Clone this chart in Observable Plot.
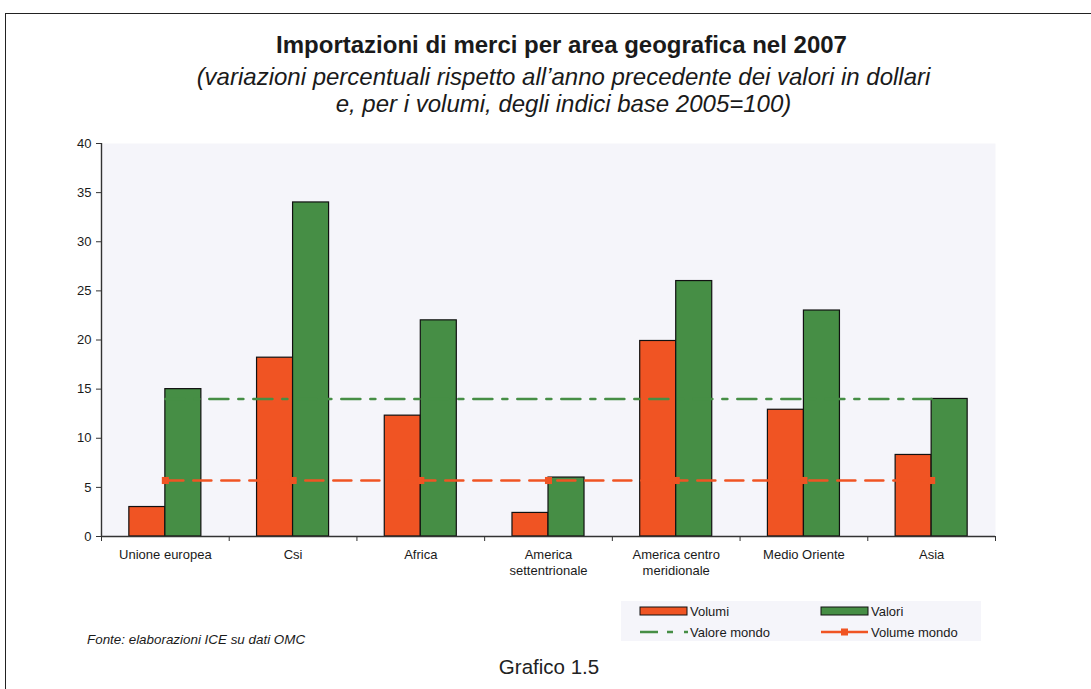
<!DOCTYPE html>
<html>
<head>
<meta charset="utf-8">
<script src="https://cdn.jsdelivr.net/npm/d3@7"></script>
<script src="https://cdn.jsdelivr.net/npm/@observablehq/plot@0.6"></script>
<style>
  html, body { margin: 0; padding: 0; background: #fff; }
  body { width: 1091px; height: 689px; position: relative; overflow: hidden; font-family: "Liberation Sans", Arial, sans-serif; color: #1a1a1a; }
  #frame { position: absolute; left: 5px; top: 13px; width: 1200px; height: 800px; border-left: 1.3px solid #222; border-top: 1.3px solid #222; }
  .title { position: absolute; left: 0; width: 1123px; text-align: center; font-size: 24px; font-weight: bold; top: 31px; line-height: 28px; }
  .subtitle { position: absolute; left: 0; width: 1127px; text-align: center; font-size: 24px; font-style: italic; top: 63px; line-height: 27px; }
  #chart { position: absolute; left: 0; top: 120px; }
  #legend { position: absolute; left: 0; top: 0; }
  .source { position: absolute; left: 87px; top: 632px; font-size: 13.4px; font-style: italic; }
  .grafico { position: absolute; left: 0; width: 1098px; text-align: center; top: 655px; font-size: 20.5px; color: #222; }
</style>
</head>
<body>
<div id="frame"></div>
<div class="title">Importazioni di merci per area geografica nel 2007</div>
<div class="subtitle">(variazioni percentuali rispetto all’anno precedente dei valori in dollari<br>e, per i volumi, degli indici base 2005=100)</div>
<div id="chart"></div>
<svg id="legend" width="1091" height="689" style="pointer-events:none"></svg>
<div class="source">Fonte: elaborazioni ICE su dati OMC</div>
<div class="grafico">Grafico 1.5</div>
<script>
// ---- Data ----
const categories = ["Unione europea", "Csi", "Africa", "America settentrionale", "America centro meridionale", "Medio Oriente", "Asia"];
const categoryLabels = ["Unione europea", "Csi", "Africa", "America\nsettentrionale", "America centro\nmeridionale", "Medio Oriente", "Asia"];
const volumi = [3.0, 18.2, 12.3, 2.4, 19.9, 12.9, 8.3];
const valori = [15, 34, 22, 6, 26, 23, 14];
const valoreMondo = 14.0;
const volumeMondo = 5.7;
const seriesNames = ["Volumi", "Valori", "Valore mondo", "Volume mondo"];
const yTicks = [0, 5, 10, 15, 20, 25, 30, 35, 40];

// ---- Style ----
const ORANGE = "#f05423";
const GREEN = "#468e45";
const BG = "#f5f5fa";
const barHalf = 0.282; // width of one bar as fraction of a category slot

const table = [];
categories.forEach((c, i) => {
  table.push({cat: c, i, serie: seriesNames[0], value: volumi[i], x1: i + 0.5 - barHalf, x2: i + 0.5});
  table.push({cat: c, i, serie: seriesNames[1], value: valori[i], x1: i + 0.5, x2: i + 0.5 + barHalf});
});
const centers = categories.map((c, i) => ({cat: c, x: i + 0.5}));

const chart = Plot.plot({
  width: 1091,
  height: 470,
  marginLeft: 101,
  marginRight: 96,
  marginTop: 23,
  marginBottom: 54,
  style: {fontFamily: "Liberation Sans, Arial, sans-serif", fontSize: "13px", color: "#1a1a1a", background: "transparent"},
  x: {type: "linear", domain: [0, categories.length]},
  y: {domain: [0, 40]},
  color: {domain: seriesNames.slice(0, 2), range: [ORANGE, GREEN]},
  marks: [
    Plot.frame({fill: BG, stroke: null}),
    Plot.rectY(table, {x1: "x1", x2: "x2", y: "value", fill: "serie", stroke: "#111", strokeWidth: 1.2}),
    Plot.lineY(centers, {x: "x", y: () => valoreMondo, stroke: GREEN, strokeWidth: 2.6, strokeDasharray: "19,10,5,10"}),
    Plot.lineY(centers, {x: "x", y: () => volumeMondo, stroke: ORANGE, strokeWidth: 2.6, strokeDasharray: "18,10"}),
    Plot.dot(centers, {x: "x", y: () => volumeMondo, symbol: "square", r: 4, fill: ORANGE, stroke: null}),
    Plot.ruleX([0], {y1: 0, y2: 40, stroke: "#333", strokeWidth: 1.4}),
    Plot.ruleY([0], {x1: 0, x2: categories.length, stroke: "#333", strokeWidth: 1.4}),
    Plot.axisY({ticks: yTicks, tickSize: 5, tickPadding: 5, label: null, fontSize: 13, stroke: "#333"}),
    Plot.axisX({ticks: d3.range(0, categories.length + 1), tickSize: 5, tickFormat: () => "", label: null, stroke: "#333"}),
    Plot.axisX({ticks: categories.map((c, i) => i + 0.5), tickSize: 0, tickPadding: 10, lineHeight: 1.3,
      tickFormat: d => categoryLabels[Math.floor(d)], label: null, fontSize: 13})
  ]
});
document.getElementById("chart").appendChild(chart);

// ---- Legend ----
const lg = d3.select("#legend");
lg.append("rect").attr("x", 621).attr("y", 601).attr("width", 360).attr("height", 40).attr("fill", BG);
const lgItems = [
  {name: seriesNames[0], kind: "bar", color: ORANGE, x: 640, y: 611},
  {name: seriesNames[1], kind: "bar", color: GREEN, x: 821, y: 611},
  {name: seriesNames[2], kind: "dashdot", color: GREEN, x: 640, y: 632},
  {name: seriesNames[3], kind: "marker", color: ORANGE, x: 821, y: 632}
];
lgItems.forEach(it => {
  const g = lg.append("g");
  if (it.kind === "bar") {
    g.append("rect").attr("x", it.x).attr("y", it.y - 4).attr("width", 47).attr("height", 8)
      .attr("fill", it.color).attr("stroke", "#111").attr("stroke-width", 1);
  } else if (it.kind === "dashdot") {
    g.append("line").attr("x1", it.x).attr("x2", it.x + 48).attr("y1", it.y).attr("y2", it.y)
      .attr("stroke", it.color).attr("stroke-width", 2.4).attr("stroke-dasharray", "18,9,6,11,4");
  } else {
    g.append("line").attr("x1", it.x).attr("x2", it.x + 47).attr("y1", it.y).attr("y2", it.y)
      .attr("stroke", it.color).attr("stroke-width", 2.4);
    g.append("rect").attr("x", it.x + 20).attr("y", it.y - 3.5).attr("width", 7).attr("height", 7).attr("fill", it.color);
  }
  g.append("text").attr("x", it.x + 50).attr("y", it.y).attr("dy", "0.35em")
    .attr("font-family", "Liberation Sans, Arial, sans-serif").attr("font-size", 13).attr("fill", "#1a1a1a").text(it.name);
});
</script>
</body>
</html>
